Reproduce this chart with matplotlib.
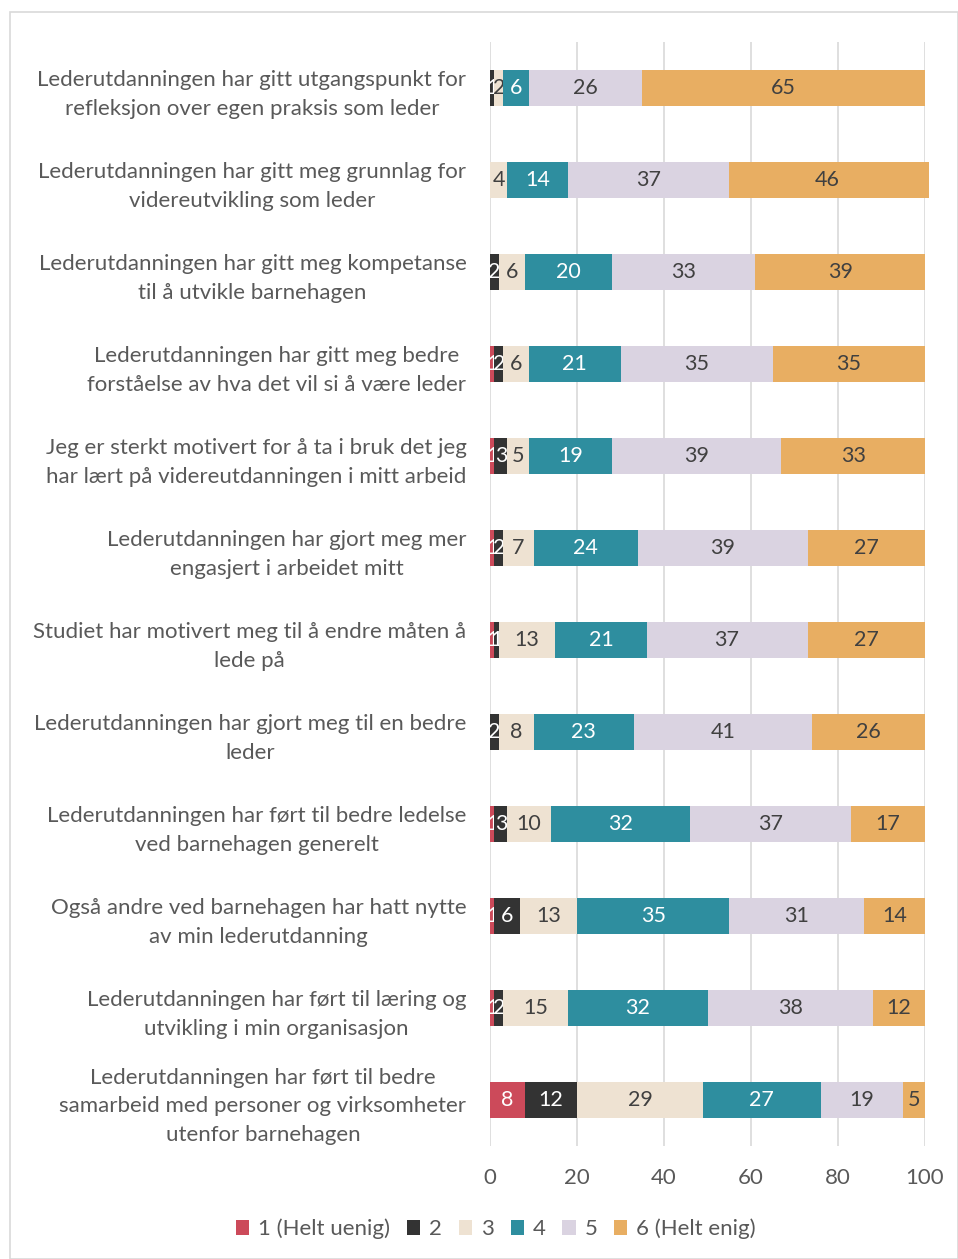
import numpy as np
import matplotlib.pyplot as plt
from matplotlib.patches import Rectangle

plt.rcParams['font.family'] = ['Lato', 'DejaVu Sans']

statements = [
    'Lederutdanningen har gitt utgangspunkt for\nrefleksjon over egen praksis som leder',
    'Lederutdanningen har gitt meg grunnlag for\nvidereutvikling som leder',
    'Lederutdanningen har gitt meg kompetanse\ntil å utvikle barnehagen',
    'Lederutdanningen har gitt meg bedre\nforståelse av hva det vil si å være leder',
    'Jeg er sterkt motivert for å ta i bruk det jeg\nhar lært på videreutdanningen i mitt arbeid',
    'Lederutdanningen har gjort meg mer\nengasjert i arbeidet mitt',
    'Studiet har motivert meg til å endre måten å\nlede på',
    'Lederutdanningen har gjort meg til en bedre\nleder',
    'Lederutdanningen har ført til bedre ledelse\nved barnehagen generelt',
    'Også andre ved barnehagen har hatt nytte\nav min lederutdanning',
    'Lederutdanningen har ført til læring og\nutvikling i min organisasjon',
    'Lederutdanningen har ført til bedre\nsamarbeid med personer og virksomheter\nutenfor barnehagen',
]

legend_labels = ['1 (Helt uenig)', '2', '3', '4', '5', '6 (Helt enig)']

s1 = [0, 0, 0, 1, 1, 1, 1, 0, 1, 1, 1, 8]
s2 = [1, 0, 2, 2, 3, 2, 1, 2, 3, 6, 2, 12]
s3 = [2, 4, 6, 6, 5, 7, 13, 8, 10, 13, 15, 29]
s4 = [6, 14, 20, 21, 19, 24, 21, 23, 32, 35, 32, 27]
s5 = [26, 37, 33, 35, 39, 39, 37, 41, 37, 31, 38, 19]
s6 = [65, 46, 39, 35, 33, 27, 27, 26, 17, 14, 12, 5]

series = [s1, s2, s3, s4, s5, s6]
colors = ['#CC4A5A', '#333333', '#EEE2D2', '#2E8E9F', '#DAD3E1', '#E8AE62']
text_colors = ['white', 'white', '#404040', 'white', '#404040', '#404040']

fig = plt.figure(figsize=(9.58, 12.59), dpi=100)
fig.patches.append(Rectangle((10 / 958, 0), 1 - 10 / 958, 1 - 12 / 1259,
                             transform=fig.transFigure, fill=False,
                             edgecolor='#D9D9D9', linewidth=1.2))
ax = fig.add_axes([490 / 958, 1 - 1146 / 1259, 435 / 958, 1104 / 1259])

y = np.arange(len(statements))
left = np.zeros(len(statements))
for vals, col, tcol, lab in zip(series, colors, text_colors, legend_labels):
    vals = np.array(vals, dtype=float)
    bars = ax.barh(y, vals, left=left, height=0.39, color=col, label=lab,
                   zorder=3, clip_on=False)
    ax.bar_label(bars, labels=[str(int(v)) if v > 0 else '' for v in vals],
                 label_type='center', color=tcol, fontsize=15.5)
    left += vals

ax.set_ylim(len(statements) - 0.5, -0.5)
ax.set_xlim(0, 100)
ax.set_xticks(range(0, 101, 20))
ax.set_yticks(y)
ax.set_yticklabels(statements, multialignment='center', fontsize=16,
                   color='#595959', linespacing=1.55)
ax.tick_params(axis='x', length=0, pad=16, labelsize=16, labelcolor='#595959')
ax.tick_params(axis='y', length=0, pad=17)
ax.grid(axis='x', color='#D9D9D9', linewidth=1.2, zorder=0)
for sp in ax.spines.values():
    sp.set_visible(False)

handles, labels = ax.get_legend_handles_labels()
fig.legend(handles, labels, loc='center', bbox_to_anchor=(496 / 958, 1 - 1229 / 1259),
           ncol=6, frameon=False, fontsize=16, labelcolor='#595959',
           handlelength=0.6, handleheight=0.6, handletextpad=0.4, columnspacing=0.75)

fig.savefig('out.png', dpi=100)
